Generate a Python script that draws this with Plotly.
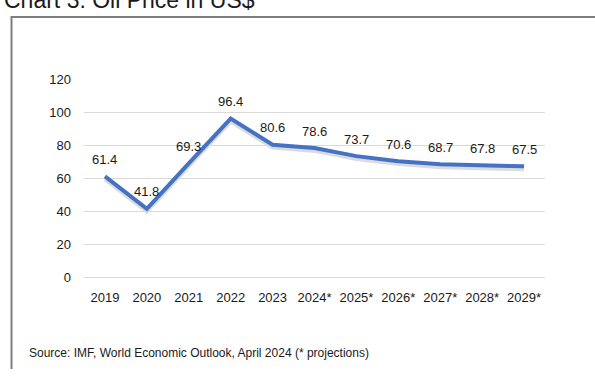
import plotly.graph_objects as go

# Oil price, US$ per barrel (IMF WEO, April 2024)
years = ["2019", "2020", "2021", "2022", "2023", "2024*", "2025*",
         "2026*", "2027*", "2028*", "2029*"]
prices = [61.4, 41.8, 69.3, 96.4, 80.6, 78.6, 73.7, 70.6, 68.7, 67.8, 67.5]
y_ticks = [0, 20, 40, 60, 80, 100, 120]

title_text = "Chart 3: Oil Price in US$"
source_text = "Source: IMF, World Economic Outlook, April 2024 (* projections)"

W, H = 595, 377
FONT = "Liberation Sans, Arial, sans-serif"
TXT = "#1a1a1a"

xpos = list(range(len(years)))

# plot area in pixels
X0, X1 = 84, 545
Y_TOP, Y_BOT = 75.7, 282
SHADOW = 3  # soft drop shadow offset under the line

fig = go.Figure()
# drop shadow, on a hidden axis shifted a few pixels down
fig.add_trace(go.Scatter(
    x=xpos, y=prices, mode="lines", yaxis="y",
    line=dict(color="rgba(0,0,0,0.14)", width=4),
    hoverinfo="skip", showlegend=False,
))
# main series on the visible value axis
fig.add_trace(go.Scatter(
    x=xpos, y=prices, mode="lines", yaxis="y2",
    line=dict(color="#4472C4", width=4),
    hoverinfo="skip", showlegend=False,
))

# value labels above each point
for xi, v in zip(xpos, prices):
    fig.add_annotation(
        x=xi, y=v, xref="x", yref="y2", text=f"{v:.1f}",
        showarrow=False, yshift=17, yanchor="middle",
        font=dict(family=FONT, size=13, color=TXT),
    )

# chart title (sits at the very top of the frame)
fig.add_annotation(
    x=2 / W, y=1 - 8 / H, xref="paper", yref="paper",
    xanchor="left", yanchor="bottom", text=title_text, showarrow=False,
    font=dict(family=FONT, size=23, color=TXT),
)

# source note
fig.add_annotation(
    x=27 / W, y=1 - 360 / H, xref="paper", yref="paper",
    xanchor="left", yanchor="middle", text=source_text, showarrow=False,
    font=dict(family=FONT, size=12, color=TXT),
)

# frame around the chart area
fig.add_shape(
    type="path", xref="paper", yref="paper",
    path=f"M {11.5/W} 0 L {11.5/W} {1-10.5/H} L 1 {1-10.5/H}",
    line=dict(color="#7f7f7f", width=2),
)

fig.update_layout(
    width=W, height=H,
    margin=dict(l=0, r=0, t=0, b=0),
    paper_bgcolor="white", plot_bgcolor="rgba(0,0,0,0)",
    font=dict(family=FONT, size=13, color=TXT),
    xaxis=dict(
        domain=[X0 / W, X1 / W], range=[-0.5, len(years) - 0.5],
        anchor="y2", tickvals=xpos, ticktext=years,
        showgrid=False, showline=False, zeroline=False, ticks="",
        ticklabelstandoff=10,
        tickfont=dict(family=FONT, size=13, color=TXT),
    ),
    yaxis=dict(
        domain=[1 - (Y_BOT + SHADOW) / H, 1 - (Y_TOP + SHADOW) / H],
        range=[0, 120], anchor="x",
        visible=False, showgrid=False, zeroline=False,
    ),
    yaxis2=dict(
        domain=[1 - Y_BOT / H, 1 - Y_TOP / H], range=[0, 120], anchor="x",
        tickvals=y_ticks, showgrid=True, gridcolor="#d9d9d9", gridwidth=1,
        zeroline=True, zerolinecolor="#d9d9d9", zerolinewidth=1,
        showline=False, ticks="", ticklabelstandoff=12,
        tickfont=dict(family=FONT, size=13, color=TXT),
    ),
)

fig.write_html("out.html")
